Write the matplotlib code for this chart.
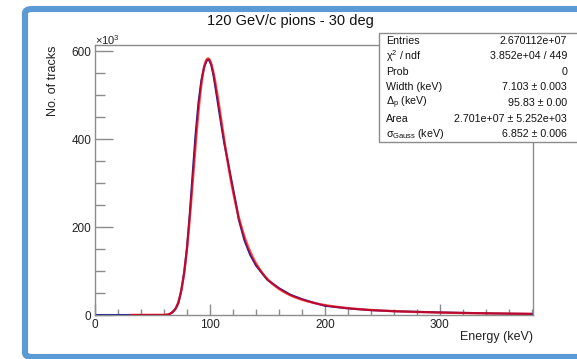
import numpy as np
import matplotlib
matplotlib.use("Agg")
import matplotlib.pyplot as plt
from matplotlib.patches import Rectangle, FancyBboxPatch
from matplotlib.ticker import MultipleLocator

plt.rcParams["font.family"] = ["Liberation Sans", "DejaVu Sans"]
plt.rcParams["mathtext.fontset"] = "custom"
plt.rcParams["mathtext.rm"] = "Liberation Sans"
plt.rcParams["mathtext.it"] = "Liberation Sans:italic"
plt.rcParams["mathtext.sf"] = "Liberation Sans"

title = "120 GeV/c pions - 30 deg"
x_label = "Energy (keV)"
y_label = "No. of tracks"

# measured energy-loss spectrum (counts per bin, in units of 10^3)
hist_energy = [0, 10, 20, 30, 40, 50, 60, 63, 65, 67.5, 70, 72.5, 75, 77.5,
               80, 82.5, 85, 87.5, 90, 92.5, 95, 97.5, 99, 101, 103, 105,
               107.5, 110, 112.5, 115, 117.5, 120, 122.5, 125, 130, 135,
               140, 145, 150, 160, 170, 180, 190, 200, 220, 240, 260, 280,
               300, 320, 340, 360, 380]
hist_counts = [0, 0, 0, 0, 0, 0, 0, 0.3, 2, 7, 14, 27, 55, 95,
               152, 232, 322, 410, 482, 533, 565, 580, 581, 570, 546, 514,
               472, 430, 390, 357, 322, 288, 255, 218, 170, 137,
               113, 96, 80, 61, 46, 36, 28, 21, 15, 11, 8.6, 7.2,
               5.9, 4.8, 3.9, 3.0, 2.3]

# Landau (x) Gauss fit parameters
fit_width = 7.103
fit_mpv = 95.83
fit_area = 2.701e7
fit_sigma = 6.852
fit_range = (30.0, 380.0)

stat_names = ["Entries", "\u03c7$^{2}$ / ndf", "Prob", "Width (keV)",
              "\u0394$_{\\rm p}$ (keV)", "Area",
              "\u03c3$_{\\rm Gauss}$ (keV)"]
stat_values = ["2.670112e+07", "3.852e+04 / 449", "0", "7.103 \u00b1 0.003",
               "95.83 \u00b1 0.00", "2.701e+07 \u00b1 5.252e+03",
               "6.852 \u00b1 0.006"]


def landau_density(lam):
    """Standard Landau density via its integral representation."""
    t = np.linspace(0.0, 60.0, 40001)[1:]
    dt = t[1] - t[0]
    a = -t * np.log(t)
    s = np.sin(np.pi * t)
    out = np.zeros_like(lam)
    idx = np.where(lam >= -3.0)[0]
    for chunk in np.array_split(idx, max(1, len(idx) // 100)):
        m = np.exp(a[None, :] - lam[chunk, None] * t[None, :]) * s[None, :]
        out[chunk] = (m.sum(axis=1) - 0.5 * m[:, -1]) * dt / np.pi
    return out


def langaus(width, mpv, area, sigma, step=0.25):
    mpshift = -0.22278298
    mpc = mpv - mpshift * width
    x = np.arange(-60.0, 460.0, step)
    land = landau_density((x - mpc) / width) / width
    n = int(5 * sigma / step)
    k = np.arange(-n, n + 1) * step
    g = np.exp(-0.5 * (k / sigma) ** 2) / (sigma * np.sqrt(2 * np.pi)) * step
    return x, area * np.convolve(land, g, mode="same")


fit_x, fit_y = langaus(fit_width, fit_mpv, fit_area, fit_sigma)
sel = (fit_x >= fit_range[0]) & (fit_x <= fit_range[1])

W, H = 577, 359
fig = plt.figure(figsize=(W / 100, H / 100), dpi=100)


def fx(px):
    return px / W


def fy(py):
    return 1 - py / H


# outer rounded frame
frame = FancyBboxPatch((fx(25), fy(357)), fx(620) - fx(25), fy(9) - fy(357),
                       boxstyle="round,pad=0,rounding_size=0.012",
                       transform=fig.transFigure, facecolor="white",
                       edgecolor="#5b9bd5", linewidth=4.4, zorder=0.5)
fig.patches.append(frame)

ax = fig.add_axes([fx(95), fy(315), fx(533) - fx(95), fy(45) - fy(315)])
ax.set_zorder(1)
ax.patch.set_alpha(0)

ax.plot(hist_energy, hist_counts, color="#1c1c9a", lw=1.5, zorder=2)
ax.plot(fit_x[sel], fit_y[sel] / 1e3, color="#ff0000", lw=1.7, alpha=0.7,
        zorder=3, solid_capstyle="butt")

ax.set_xlim(0, 381)
ax.set_ylim(0, 614)

ax.xaxis.set_major_locator(MultipleLocator(100))
ax.xaxis.set_minor_locator(MultipleLocator(20))
ax.yaxis.set_major_locator(MultipleLocator(200))
ax.yaxis.set_minor_locator(MultipleLocator(50))
ax.tick_params(axis="x", which="major", direction="in", length=8, width=1,
               color="#8c8c8c", pad=3, labelsize=8.5, labelcolor="#222222")
ax.tick_params(axis="x", which="minor", direction="in", length=4, width=1,
               color="#8c8c8c")
ax.tick_params(axis="y", which="major", direction="in", length=13, width=1,
               color="#8c8c8c", pad=2.5, labelsize=8.5, labelcolor="#222222")
ax.tick_params(axis="y", which="minor", direction="in", length=7, width=1,
               color="#8c8c8c")
for sp in ax.spines.values():
    sp.set_color("#8c8c8c")
    sp.set_linewidth(1.0)

fig.text(fx(290), fy(21), title, ha="center", va="center", fontsize=10.5,
         color="#111111")
fig.text(fx(533), fy(337), x_label, ha="right", va="center", fontsize=9,
         color="#222222")
fig.text(fx(53), fy(45), y_label, ha="center", va="top", rotation=90,
         fontsize=9, color="#222222")
fig.text(fx(95), fy(40), r"$\times$10$^{3}$", ha="left", va="center",
         fontsize=8, color="#222222")

# statistics box
box = Rectangle((fx(379), fy(142)), fx(600) - fx(379), fy(33) - fy(142),
                transform=fig.transFigure, facecolor="white",
                edgecolor="#8c8c8c", linewidth=1.0, zorder=5)
fig.patches.append(box)
row_h = (142 - 33) / len(stat_names)
for i, (name, val) in enumerate(zip(stat_names, stat_values)):
    yc = 33 + row_h * (i + 0.5)
    fig.text(fx(386), fy(yc), name, ha="left", va="center", fontsize=7.7,
             color="#111111", zorder=6)
    fig.text(fx(567), fy(yc), val, ha="right", va="center", fontsize=7.7,
             color="#111111", zorder=6)

fig.savefig("out.png", dpi=100, facecolor="white")
